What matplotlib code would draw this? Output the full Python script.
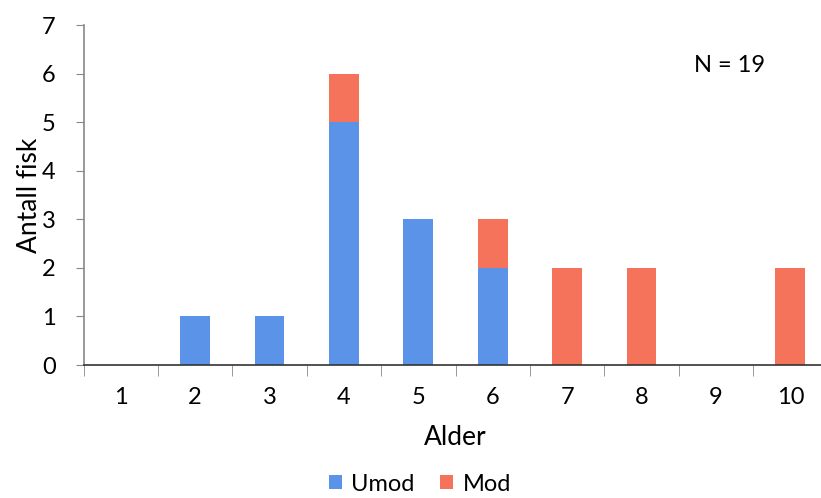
import numpy as np
import matplotlib.pyplot as plt

plt.rcParams['font.family'] = ['Lato', 'DejaVu Sans']

alder = [1, 2, 3, 4, 5, 6, 7, 8, 9, 10]
umod = [0, 1, 1, 5, 3, 2, 0, 0, 0, 0]
mod = [0, 0, 0, 1, 0, 1, 2, 2, 0, 2]

blue = '#5b93e8'
red = '#f5735a'

fig = plt.figure(figsize=(8.21, 4.98), dpi=100)
# axes placed in pixel terms; right edge runs slightly past the figure
ax = fig.add_axes([83.5 / 821, 133 / 498, 744 / 821, 340 / 498])

x = np.arange(len(alder))
ax.bar(x, umod, width=0.4, color=blue, label='Umod', zorder=2)
ax.bar(x, mod, width=0.4, bottom=umod, color=red, label='Mod', zorder=2)

ax.set_xlim(-0.5, len(alder) - 0.5)
ax.set_ylim(0, 7)
ax.set_yticks(range(0, 8))
ax.tick_params(axis='y', labelsize=17, length=6, color='#888888', pad=14)

# category labels centred, tick marks between categories
ax.set_xticks(x)
ax.set_xticklabels([str(a) for a in alder], fontsize=17)
ax.tick_params(axis='x', length=0, pad=16)
ax.set_xticks(np.arange(-0.5, len(alder), 1), minor=True)
ax.tick_params(axis='x', which='minor', length=8, color='#888888')

for s in ['top', 'right']:
    ax.spines[s].set_visible(False)
ax.spines['left'].set_color('#888888')
ax.spines['bottom'].set_color('#333333')
ax.spines['left'].set_linewidth(1.2)
ax.spines['bottom'].set_linewidth(1.2)

ax.set_ylabel('Antall fisk', fontsize=19, labelpad=0)
ax.set_xlabel('Alder', fontsize=19, labelpad=12)

fig.text(730 / 821, 1 - 65 / 498, 'N = 19', fontsize=17, ha='center', va='center')

fig.legend(loc='center', bbox_to_anchor=(420 / 821, 1 - 484 / 498), ncol=2,
           frameon=False, fontsize=17, handlelength=0.55, handleheight=0.55,
           handletextpad=0.4, columnspacing=1.1)

fig.savefig('out.png', dpi=100)
